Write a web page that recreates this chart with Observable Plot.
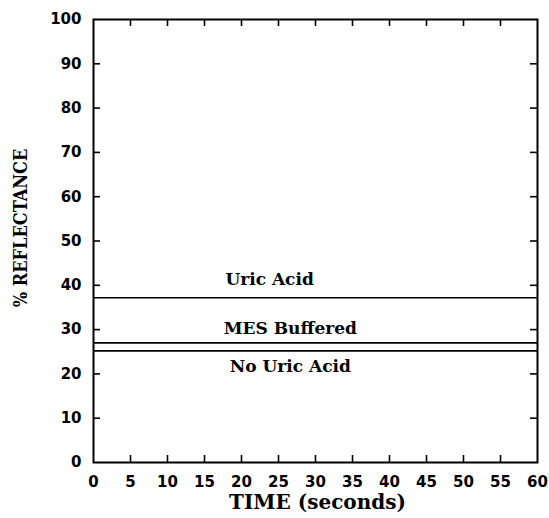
<!DOCTYPE html>
<html>
<head>
<meta charset="utf-8">
<script src="https://cdn.jsdelivr.net/npm/d3@7"></script>
<script src="https://cdn.jsdelivr.net/npm/@observablehq/plot@0.6"></script>
<style>
  html, body { margin: 0; padding: 0; background: #fff; }
  #chart svg { display: block; }
</style>
</head>
<body>
<div id="chart"></div>
<script>
// Reflectance (%) held flat over the 60 s reading window
const series = ["Uric Acid", "MES Buffered", "No Uric Acid"];
const reflectance = [37.2, 27.0, 25.2];
const xTicks = [0, 5, 10, 15, 20, 25, 30, 35, 40, 45, 50, 55, 60];
const yTicks = [0, 10, 20, 30, 40, 50, 60, 70, 80, 90, 100];
const xInnerTicks = xTicks.slice(1, -1);
const yInnerTicks = yTicks.slice(1, -1);

const rows = series.map((name, i) => ({name, value: reflectance[i]}));

const W = 549, H = 518;
const mL = 93, mR = 12, mT = 19, mB = 56;
const innerW = W - mL - mR, innerH = H - mT - mB;
const tick = 7;

const tickFont = "'DejaVu Sans', sans-serif";
const serifFont = "'DejaVu Serif', 'Liberation Serif', serif";
const condensedSerif = "'DejaVu Serif Condensed', 'DejaVu Serif', serif";

// label placement: above the line for the first two, below for the last
const labelDy = {"Uric Acid": -18, "MES Buffered": -14, "No Uric Acid": 16};
const labelX = {"Uric Acid": 23.8, "MES Buffered": 26.6, "No Uric Acid": 26.6};

const chart = Plot.plot({
  width: W,
  height: H,
  marginLeft: mL,
  marginRight: mR,
  marginTop: mT,
  marginBottom: mB,
  x: {domain: [0, 60]},
  y: {domain: [0, 100]},
  style: {background: "#fff", color: "#000"},
  marks: [
    // inward tick marks on all four sides
    Plot.tickX(xInnerTicks, {x: d => d, insetTop: innerH - tick, stroke: "#000", strokeWidth: 1.6}),
    Plot.tickX(xInnerTicks, {x: d => d, insetBottom: innerH - tick, stroke: "#000", strokeWidth: 1.6}),
    Plot.tickY(yInnerTicks, {y: d => d, insetRight: innerW - tick, stroke: "#000", strokeWidth: 1.6}),
    Plot.tickY(yInnerTicks, {y: d => d, insetLeft: innerW - tick, stroke: "#000", strokeWidth: 1.6}),
    Plot.axisX({ticks: xTicks, tickSize: 0, tickPadding: 14, label: null,
      fontSize: 15, fontWeight: "bold", fontFamily: tickFont}),
    Plot.axisY({ticks: yTicks, tickSize: 0, tickPadding: 12, label: null,
      fontSize: 15, fontWeight: "bold", fontFamily: tickFont}),
    // horizontal series lines
    Plot.ruleY(rows, {y: "value", stroke: "#000", strokeWidth: 1.6}),
    ...rows.map(r => Plot.text([r], {
      x: () => labelX[r.name], y: "value", text: "name", dy: labelDy[r.name],
      fontSize: 17, fontWeight: "bold", fontFamily: serifFont, fill: "#000"
    })),
    Plot.frame({stroke: "#000", strokeWidth: 2}),
    // axis titles
    Plot.text(["TIME (seconds)"], {frameAnchor: "bottom", dy: 46, dx: 2, text: d => d,
      fontSize: 20, fontWeight: "bold", fontFamily: serifFont, fill: "#000"}),
    Plot.text(["% REFLECTANCE"], {frameAnchor: "left", textAnchor: "middle", dx: -72, dy: -13,
      text: d => d, rotate: -90,
      fontSize: 18, fontWeight: "bold", fontFamily: condensedSerif, fill: "#000"})
  ]
});

document.getElementById("chart").appendChild(chart);
</script>
</body>
</html>
